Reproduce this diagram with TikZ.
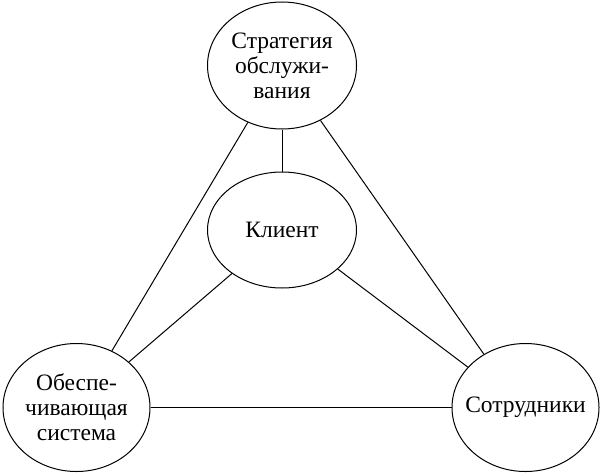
\documentclass[tikz,border=0pt]{standalone}
\usepackage{fontspec}
\setmainfont{Liberation Serif}
\usetikzlibrary{shapes.geometric}
\tikzstyle{ovalblock} = [ellipse, draw=black, line width=1pt, inner sep=0pt, align=center,
  font=\fontsize{23.5}{25}\selectfont]
\tikzstyle{link} = [line width=1pt]

\begin{document}
\begin{tikzpicture}
  \useasboundingbox (0,0) rectangle (601pt,475pt);
  \node (strat) [ovalblock, minimum width=149pt, minimum height=127pt] at (282pt,409.5pt) {Стратегия\\обслужи-\\вания};
  \node (client) [ovalblock, minimum width=149pt, minimum height=116pt] at (282pt,245pt) {Клиент};
  \node (support) [ovalblock, minimum width=147pt, minimum height=128pt] at (76.5pt,67.5pt) {Обеспе-\\чивающая\\система};
  \node (staff) [ovalblock, inner xsep=-10pt, minimum width=147pt, minimum height=128pt] at (525.5pt,67.5pt) {Сотрудники};
  \draw [link] (strat.south) -- (client.north);
  \draw [link] (strat.-121.8) -- (support.58.9);
  \draw [link] (strat.-55.6) -- (staff.128);
  \draw [link] (client.-139.7) -- (support.41.5);
  \draw [link] (client.-35.7) -- (staff.145.5);
  \draw [link] (support.east) -- (staff.west);
\end{tikzpicture}
\end{document}
